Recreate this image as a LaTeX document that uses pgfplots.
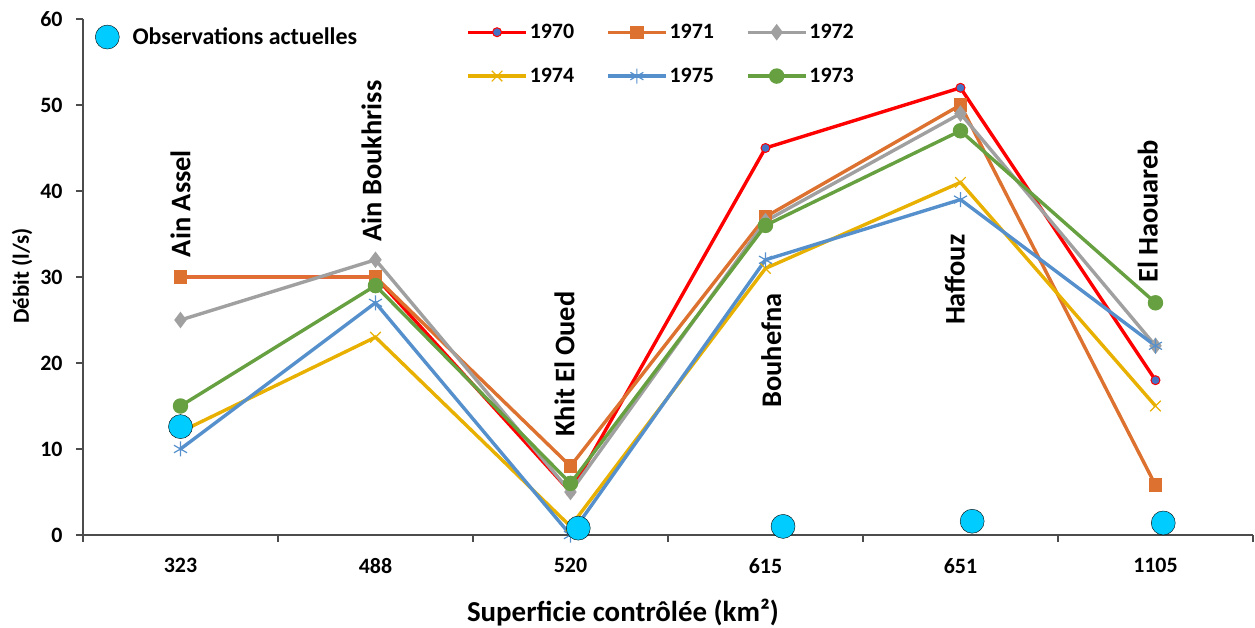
\documentclass[border=0pt]{standalone}
\usepackage{fontspec}
\setmainfont{Carlito}
\usepackage{pgfplots}
\pgfplotsset{compat=1.18}
\definecolor{cA}{HTML}{FF0000}
\definecolor{cAfill}{HTML}{4472C4}
\definecolor{cB}{HTML}{DD7130}
\definecolor{cC}{HTML}{A0A0A0}
\definecolor{cD}{HTML}{E8B000}
\definecolor{cE}{HTML}{5590CC}
\definecolor{cF}{HTML}{66A040}
\definecolor{cObs}{HTML}{00CCFF}
\begin{document}
\begin{tikzpicture}
\useasboundingbox (0,0) rectangle (1255bp,628bp);
\begin{axis}[
  at={(83bp,93bp)}, anchor=south west,
  scale only axis, width=1170bp, height=516bp,
  xmin=-0.5, xmax=5.5, ymin=0, ymax=60,
  axis x line*=bottom, axis y line*=left,
  axis line style={-, draw=black!70, line width=1.3bp},
  tick style={draw=black!70, line width=1.3bp},
  tick align=outside,
  major tick length=7bp,
  xtick={-0.5,0.5,...,5.5}, xticklabels={},
  extra x ticks={0,1,2,3,4,5},
  extra x tick labels={323,488,520,615,651,1105},
  extra x tick style={major tick length=0pt},
  ytick={0,10,...,60},
  /pgf/number format/assume math mode=true,
  tick label style={font=\fontsize{22}{26}\selectfont\bfseries},
  x tick label style={yshift=-20bp},
  y tick label style={xshift=-10bp},
  xlabel={Superficie contrôlée (km²)},
  xlabel style={at={(axis description cs:0.4615,-0.151)}, anchor=center, font=\fontsize{29}{34}\selectfont\bfseries},
  ylabel={\fontsize{23}{28}\selectfont\bfseries Débit (l/s)},
  ylabel style={at={(axis description cs:-0.0521,0.502)}, anchor=center},
  legend columns=3,
  legend style={at={(axis description cs:0.3275,0.994)}, anchor=north west, draw=none, fill=none,
    inner sep=0pt,
    font=\fontsize{22}{26}\selectfont\bfseries,
    /tikz/every even column/.append style={column sep=30bp},
    row sep=24bp},
  legend image code/.code={\draw[mark repeat=2,mark phase=2] plot coordinates {(0bp,0bp) (29bp,0bp) (58bp,0bp)};},
  every axis plot/.append style={line width=3.4bp},
  clip=false,
]
\addplot[cA, mark=*, mark size=4.5bp, mark options={fill=cAfill, draw=cA, line width=1bp}] coordinates {(0,30) (1,30) (2,5) (3,45) (4,52) (5,18)};
\addlegendentry{1970}
\addplot[cB, mark=square*, mark size=5bp, mark options={fill=cB}] coordinates {(0,30) (1,30) (2,8) (3,37) (4,50) (5,5.8)};
\addlegendentry{1971}
\addplot[cC, mark=diamond*, mark size=5.5bp, mark options={fill=cC}] coordinates {(0,25) (1,32) (2,5) (3,36.5) (4,49) (5,22)};
\addlegendentry{1972}
\addplot[cD, mark=x, mark size=7.5bp, mark options={line width=1.2bp}] coordinates {(0,12) (1,23) (2,1) (3,31) (4,41) (5,15)};
\addlegendentry{1974}
\addplot[cE, mark=asterisk, mark size=7.5bp, mark options={line width=1.2bp}] coordinates {(0,10) (1,27) (2,0) (3,32) (4,39) (5,22)};
\addlegendentry{1975}
\addplot[cF, mark=*, mark size=6bp, mark options={fill=cF}] coordinates {(0,15) (1,29) (2,6) (3,36) (4,47) (5,27)};
\addlegendentry{1973}
\begin{scope}[every node/.style={rotate=90, anchor=west, inner sep=0pt, font=\fontsize{28.5}{33}\selectfont\bfseries}]
\node at (axis cs:0,32.3) {Ain Assel};
\node at (axis cs:0.98,34.1) {Ain Boukhriss};
\node at (axis cs:1.97,11.4) {Khit El Oued};
\node at (axis cs:3.03,14.8) {Bouhefna};
\node at (axis cs:3.97,24.4) {Haffouz};
\node at (axis cs:4.96,29.3) {El Haouareb};
\end{scope}
\end{axis}
\begin{axis}[
  at={(83bp,93bp)}, anchor=south west,
  scale only axis, width=1170bp, height=516bp,
  xmin=-0.5, xmax=5.5, ymin=0, ymax=60,
  hide axis, clip=false,
  legend style={at={(axis description cs:0.0102,0.965)}, anchor=west, draw=none, fill=none,
    inner sep=0pt,
    font=\fontsize{24}{28}\selectfont\bfseries},
  legend image code/.code={\draw plot coordinates {(12bp,0bp)}; \path (0bp,0bp) (35bp,0bp);},
]
\addplot[only marks, mark=*, mark size=12bp, mark options={fill=cObs, draw=none}] coordinates {(0,12.6) (2.04,0.8) (3.09,1.0) (4.06,1.6) (5.04,1.4)};
\addlegendentry{Observations actuelles}
\end{axis}
\end{tikzpicture}
\end{document}
